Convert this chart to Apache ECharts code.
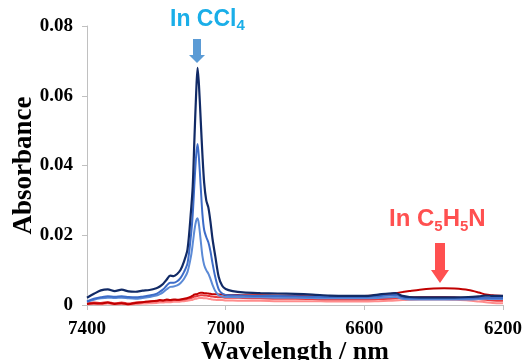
<!DOCTYPE html>
<html><head><meta charset="utf-8">
<script src="https://cdn.jsdelivr.net/npm/echarts@6/dist/echarts.min.js"></script>
<style>html,body{margin:0;padding:0;background:#fff}#c{width:524px;height:360px}</style>
</head><body><div id="c"></div>
<script>
const wavelengths = [7400,7380,7360,7340,7320,7300,7280,7260,7240,7220,
 7200,7190,7180,7170,7160,7150,7140,7130,7120,7110,
 7100,7095,7090,7085,7081,7077,7072,7067,7062,7056,
 7050,7044,7038,7030,7020,7010,7000,6980,6950,6900,
 6850,6800,6750,6700,6650,6600,6560,6530,6510,6490,
 6470,6440,6400,6370,6340,6300,6270,6250,6230,6200];

const ccl4High = [0.0021,0.0032,0.0042,0.0045,0.0040,0.0044,0.0039,0.0038,0.0041,0.0043,
 0.0048,0.0053,0.0061,0.0073,0.0084,0.0083,0.0089,0.0101,0.0125,0.0160,
 0.0270,0.0340,0.0480,0.0610,0.0680,0.0630,0.0530,0.0430,0.0350,0.0300,
 0.0280,0.0240,0.0190,0.0140,0.0080,0.0055,0.0046,0.0040,0.0036,0.0034,
 0.0033,0.0032,0.0030,0.0027,0.0026,0.0026,0.0030,0.0033,0.0034,0.0026,
 0.0023,0.0022,0.0022,0.0022,0.0022,0.0023,0.0025,0.0027,0.0026,0.0026];

const ccl4Mid = [0.0010,0.0018,0.0022,0.0025,0.0024,0.0025,0.0023,0.0022,0.0024,0.0027,
 0.0032,0.0038,0.0045,0.0056,0.0064,0.0064,0.0068,0.0078,0.0095,0.0120,
 0.0200,0.0260,0.0350,0.0430,0.0462,0.0420,0.0340,0.0260,0.0215,0.0195,
 0.0180,0.0155,0.0120,0.0080,0.0045,0.0033,0.0029,0.0028,0.0027,0.0026,
 0.0026,0.0025,0.0024,0.0023,0.0023,0.0023,0.0025,0.0028,0.0029,0.0022,
 0.0020,0.0019,0.0019,0.0019,0.0019,0.0019,0.0020,0.0021,0.0020,0.0020];

const ccl4Low = [0.0009,0.0015,0.0019,0.0021,0.0020,0.0021,0.0019,0.0018,0.0020,0.0023,
 0.0027,0.0031,0.0037,0.0045,0.0052,0.0053,0.0056,0.0063,0.0075,0.0095,
 0.0140,0.0175,0.0215,0.0242,0.0249,0.0230,0.0185,0.0140,0.0115,0.0100,
 0.0090,0.0075,0.0058,0.0040,0.0028,0.0024,0.0023,0.0023,0.0022,0.0022,
 0.0021,0.0021,0.0020,0.0019,0.0019,0.0019,0.0020,0.0022,0.0023,0.0018,
 0.0016,0.0016,0.0016,0.0016,0.0016,0.0016,0.0017,0.0018,0.0017,0.0017];

const pyHigh = [0.0003,0.0005,0.0004,0.0007,0.0003,0.0005,0.0002,0.0006,0.0008,0.0010,
 0.0012,0.0014,0.0013,0.0016,0.0014,0.0016,0.0015,0.0016,0.0018,0.0020,
 0.0024,0.0027,0.0030,0.0031,0.0032,0.0034,0.0035,0.0035,0.0034,0.0034,
 0.0033,0.0032,0.0031,0.0031,0.0030,0.0030,0.0029,0.0029,0.0028,0.0028,
 0.0027,0.0026,0.0025,0.0025,0.0025,0.0026,0.0028,0.0031,0.0034,0.0037,
 0.0040,0.0044,0.0047,0.0048,0.0047,0.0043,0.0036,0.0030,0.0028,0.0026];

const pyMid = [0.0005,0.0007,0.0006,0.0008,0.0005,0.0007,0.0004,0.0007,0.0008,0.0010,
 0.0011,0.0012,0.0012,0.0013,0.0013,0.0014,0.0014,0.0015,0.0016,0.0018,
 0.0020,0.0022,0.0024,0.0025,0.0026,0.0027,0.0028,0.0028,0.0027,0.0027,
 0.0026,0.0025,0.0024,0.0023,0.0022,0.0022,0.0021,0.0021,0.0020,0.0019,
 0.0018,0.0018,0.0017,0.0016,0.0016,0.0016,0.0017,0.0018,0.0019,0.0021,
 0.0022,0.0023,0.0023,0.0023,0.0022,0.0020,0.0017,0.0015,0.0013,0.0012];

const pyLow = [0.0002,0.0003,0.0002,0.0004,0.0002,0.0003,0.0001,0.0003,0.0004,0.0005,
 0.0006,0.0007,0.0007,0.0008,0.0008,0.0009,0.0009,0.0010,0.0011,0.0012,
 0.0014,0.0015,0.0017,0.0018,0.0019,0.0020,0.0020,0.0020,0.0019,0.0019,
 0.0018,0.0017,0.0016,0.0015,0.0014,0.0014,0.0013,0.0013,0.0012,0.0012,
 0.0011,0.0011,0.0011,0.0010,0.0010,0.0010,0.0011,0.0012,0.0013,0.0014,
 0.0015,0.0016,0.0016,0.0016,0.0015,0.0013,0.0010,0.0008,0.0006,0.0005];

const xTicks = [7400, 7000, 6600, 6200];

const seriesDefs = [
  {name:'py low', data: pyLow, color:'#ff8c8c', width:2},
  {name:'py mid', data: pyMid, color:'#e8383d', width:2},
  {name:'py high', data: pyHigh, color:'#c00000', width:2},
  {name:'ccl4 low', data: ccl4Low, color:'#5b8ad6', width:2},
  {name:'ccl4 mid', data: ccl4Mid, color:'#3d6cc8', width:2},
  {name:'ccl4 high', data: ccl4High, color:'#112a66', width:2.2}
];

const serif = '"Liberation Serif","Times New Roman",serif';
const sans = '"Liberation Sans",Arial,sans-serif';

const chart = echarts.init(document.getElementById('c'), null, {renderer:'canvas'});
chart.setOption({
  animation:false,
  backgroundColor:'#fff',
  grid:{left:87, right:21, top:26, bottom:55, containLabel:false, outerBoundsMode:'none'},
  xAxis:{
    type:'value', min:6200, max:7400, inverse:true,
    splitLine:{show:false},
    axisLine:{lineStyle:{color:'#c0c0c0', width:1}},
    axisTick:{show:true, length:5, lineStyle:{color:'#c0c0c0'}, customValues: xTicks},
    axisLabel:{customValues: xTicks, color:'#000', fontFamily:serif, fontWeight:'bold', fontSize:19, margin:15,
      formatter: v => String(v)},
    name:'Wavelength / nm', nameLocation:'middle', nameGap:34, nameMoveOverlap:false,
    nameTextStyle:{color:'#000', fontFamily:serif, fontWeight:'bold', fontSize:26}
  },
  yAxis:{
    type:'value', min:0, max:0.08, interval:0.02,
    splitLine:{show:false},
    axisLine:{show:true, lineStyle:{color:'#c0c0c0', width:1}},
    axisTick:{show:true, length:5, lineStyle:{color:'#c0c0c0'}},
    axisLabel:{color:'#000', fontFamily:serif, fontWeight:'bold', fontSize:19, margin:14,
      formatter: v => v === 0 ? '0' : v.toFixed(2)},
    name:'Absorbance', nameLocation:'middle', nameGap:49, nameMoveOverlap:false,
    nameTextStyle:{color:'#000', fontFamily:serif, fontWeight:'bold', fontSize:27}
  },
  series: seriesDefs.map(s => ({
    type:'line', name:s.name, showSymbol:false, symbol:'none', smooth:0.3,
    data: wavelengths.map((w,i)=>[w, s.data[i]]),
    lineStyle:{color:s.color, width:s.width}, itemStyle:{color:s.color}
  })),
  graphic:[
    {type:'text', left:170, top:8, z:10,
      style:{text:'{a|In CCl}{s|4}', fill:'#1aaee8',
        rich:{a:{fontFamily:sans, fontWeight:'bold', fontSize:23, lineHeight:28, verticalAlign:'middle', fill:'#1aaee8'},
              s:{fontFamily:sans, fontWeight:'bold', fontSize:15, lineHeight:15, verticalAlign:'bottom', fill:'#1aaee8'}}}},
    {type:'polygon', z:10, shape:{points:[[193,39],[201,39],[201,55],[205,55],[197,63],[189,55],[193,55]]},
      style:{fill:'#5b9bd5'}},
    {type:'text', left:389, top:207, z:10,
      style:{text:'{a|In C}{s|5}{a|H}{s|5}{a|N}', fill:'#ff5050',
        rich:{a:{fontFamily:sans, fontWeight:'bold', fontSize:24, lineHeight:30, verticalAlign:'middle', fill:'#ff5050'},
              s:{fontFamily:sans, fontWeight:'bold', fontSize:15, lineHeight:15, verticalAlign:'bottom', fill:'#ff5050'}}}},
    {type:'polygon', z:10, shape:{points:[[435,243],[445,243],[445,270],[449,270],[440,283],[431,270],[435,270]]},
      style:{fill:'#ff5050'}}
  ]
});
</script>
</body></html>
